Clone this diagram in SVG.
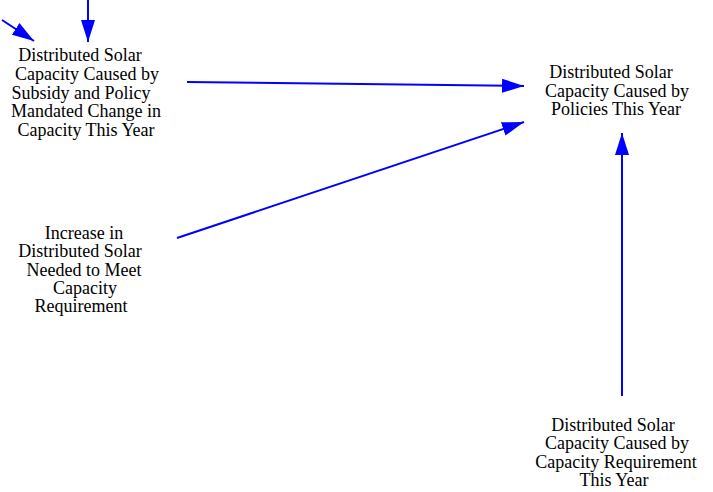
<svg xmlns="http://www.w3.org/2000/svg" width="713" height="492" viewBox="0 0 713 492">
<style>
text{font-family:"Liberation Serif","Times New Roman",serif;font-size:18px;fill:#000;text-anchor:middle}
.c line{stroke:#0000ff;stroke-width:2;fill:none}
</style>
<defs>
<marker id="ahL" viewBox="0 0 10 10" refX="10" refY="5" markerWidth="22" markerHeight="14" markerUnits="userSpaceOnUse" orient="auto" preserveAspectRatio="none">
<path d="M0,0 L10,5 L0,10 Z" fill="#0000ff"/>
</marker>
</defs>
<rect width="713" height="492" fill="#fff"/>
<g class="c" id="connectors">
<line x1="2" y1="20" x2="34" y2="41" marker-end="url(#ahL)"/>
<line x1="88" y1="0" x2="88" y2="42" marker-end="url(#ahL)"/>
<line x1="187" y1="82" x2="524" y2="86" marker-end="url(#ahL)"/>
<line x1="177" y1="238" x2="524" y2="122" marker-end="url(#ahL)"/>
<line x1="622" y1="396" x2="622" y2="133" marker-end="url(#ahL)"/>
</g>
<g id="node-subsidy">
<text x="80" y="61">Distributed Solar</text>
<text x="87" y="80">Capacity Caused by</text>
<text x="81" y="99">Subsidy and Policy</text>
<text x="86" y="117">Mandated Change in</text>
<text x="86" y="136">Capacity This Year</text>
</g>
<g id="node-policies">
<text x="611" y="78">Distributed Solar</text>
<text x="617" y="97">Capacity Caused by</text>
<text x="616" y="115">Policies This Year</text>
</g>
<g id="node-increase">
<text x="84" y="239">Increase in</text>
<text x="80" y="257">Distributed Solar</text>
<text x="84" y="276">Needed to Meet</text>
<text x="85" y="294">Capacity</text>
<text x="81" y="312">Requirement</text>
</g>
<g id="node-requirement">
<text x="613" y="431">Distributed Solar</text>
<text x="617" y="449">Capacity Caused by</text>
<text x="616" y="468">Capacity Requirement</text>
<text x="614" y="486">This Year</text>
</g>
</svg>
